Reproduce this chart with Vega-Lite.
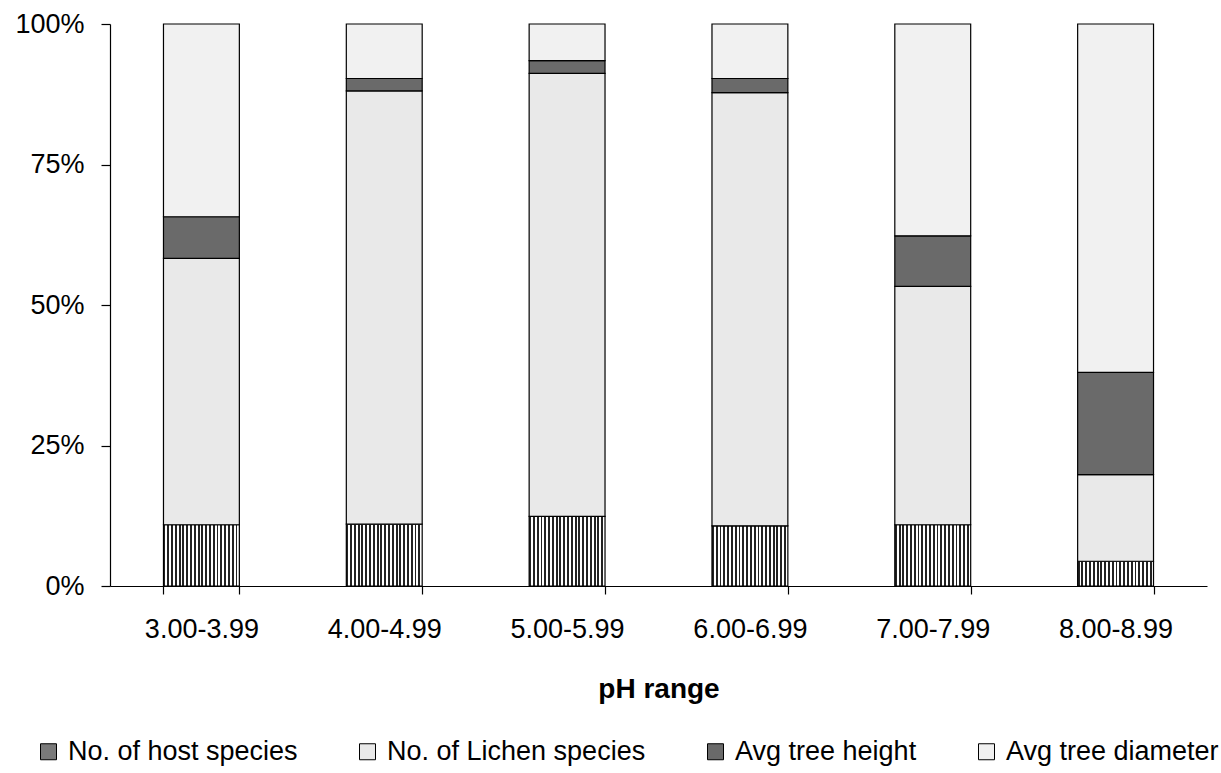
{
  "$schema": "https://vega.github.io/schema/vega-lite/v6.json",
  "width": 1097,
  "height": 562,
  "autosize": {"type": "none"},
  "padding": {"left": 110, "top": 24, "right": 14, "bottom": 187},
  "background": "white",
  "config": {"view": {"stroke": null}, "font": "Liberation Sans"},
  "data": {
    "values": [
      {"ph": "3.00-3.99", "series": "No. of host species", "value": 10.9},
      {"ph": "3.00-3.99", "series": "No. of Lichen species", "value": 47.4},
      {"ph": "3.00-3.99", "series": "Avg tree height", "value": 7.4},
      {"ph": "3.00-3.99", "series": "Avg tree diameter", "value": 34.3},
      {"ph": "4.00-4.99", "series": "No. of host species", "value": 11.0},
      {"ph": "4.00-4.99", "series": "No. of Lichen species", "value": 77.1},
      {"ph": "4.00-4.99", "series": "Avg tree height", "value": 2.2},
      {"ph": "4.00-4.99", "series": "Avg tree diameter", "value": 9.7},
      {"ph": "5.00-5.99", "series": "No. of host species", "value": 12.4},
      {"ph": "5.00-5.99", "series": "No. of Lichen species", "value": 78.8},
      {"ph": "5.00-5.99", "series": "Avg tree height", "value": 2.3},
      {"ph": "5.00-5.99", "series": "Avg tree diameter", "value": 6.5},
      {"ph": "6.00-6.99", "series": "No. of host species", "value": 10.7},
      {"ph": "6.00-6.99", "series": "No. of Lichen species", "value": 77.1},
      {"ph": "6.00-6.99", "series": "Avg tree height", "value": 2.5},
      {"ph": "6.00-6.99", "series": "Avg tree diameter", "value": 9.7},
      {"ph": "7.00-7.99", "series": "No. of host species", "value": 10.9},
      {"ph": "7.00-7.99", "series": "No. of Lichen species", "value": 42.4},
      {"ph": "7.00-7.99", "series": "Avg tree height", "value": 9.0},
      {"ph": "7.00-7.99", "series": "Avg tree diameter", "value": 37.7},
      {"ph": "8.00-8.99", "series": "No. of host species", "value": 4.4},
      {"ph": "8.00-8.99", "series": "No. of Lichen species", "value": 15.4},
      {"ph": "8.00-8.99", "series": "Avg tree height", "value": 18.2},
      {"ph": "8.00-8.99", "series": "Avg tree diameter", "value": 62.0}
    ]
  },
  "mark": {"type": "bar", "stroke": "black", "strokeWidth": 1.2},
  "encoding": {
    "x": {
      "field": "ph",
      "type": "nominal",
      "sort": null,
      "scale": {"paddingInner": 0.585, "paddingOuter": 0.2925},
      "axis": {
        "title": "pH range",
        "titleFont": "Liberation Sans",
        "titleFontSize": 28,
        "titleFontWeight": "bold",
        "titleColor": "black",
        "titlePadding": 33,
        "labelAngle": 0,
        "labelFont": "Liberation Sans",
        "labelFontSize": 27,
        "labelColor": "black",
        "labelPadding": 22,
        "tickBand": "extent",
        "tickSize": 8,
        "tickColor": "black",
        "tickWidth": 1.2,
        "domainColor": "black",
        "domainWidth": 1.2
      }
    },
    "y": {
      "field": "value",
      "type": "quantitative",
      "stack": "normalize",
      "axis": {
        "title": null,
        "values": [0, 0.25, 0.5, 0.75, 1],
        "format": ".0%",
        "grid": false,
        "labelFont": "Liberation Sans",
        "labelFontSize": 27,
        "labelColor": "black",
        "labelPadding": 17,
        "tickSize": 9,
        "tickColor": "black",
        "tickWidth": 1.2,
        "domainColor": "black",
        "domainWidth": 1.2
      }
    },
    "color": {
      "condition": {
        "test": "datum.series === 'No. of host species'",
        "value": {
          "gradient": "linear", "x1": 0, "y1": 0, "x2": 1, "y2": 0,
          "stops": [
            {"offset": 0, "color": "#222222"}, {"offset": 0.025, "color": "#222222"}, {"offset": 0.025, "color": "#ffffff"}, {"offset": 0.05, "color": "#ffffff"},
            {"offset": 0.05, "color": "#222222"}, {"offset": 0.075, "color": "#222222"}, {"offset": 0.075, "color": "#ffffff"}, {"offset": 0.1, "color": "#ffffff"},
            {"offset": 0.1, "color": "#222222"}, {"offset": 0.125, "color": "#222222"}, {"offset": 0.125, "color": "#ffffff"}, {"offset": 0.15, "color": "#ffffff"},
            {"offset": 0.15, "color": "#222222"}, {"offset": 0.175, "color": "#222222"}, {"offset": 0.175, "color": "#ffffff"}, {"offset": 0.2, "color": "#ffffff"},
            {"offset": 0.2, "color": "#222222"}, {"offset": 0.225, "color": "#222222"}, {"offset": 0.225, "color": "#ffffff"}, {"offset": 0.25, "color": "#ffffff"},
            {"offset": 0.25, "color": "#222222"}, {"offset": 0.275, "color": "#222222"}, {"offset": 0.275, "color": "#ffffff"}, {"offset": 0.3, "color": "#ffffff"},
            {"offset": 0.3, "color": "#222222"}, {"offset": 0.325, "color": "#222222"}, {"offset": 0.325, "color": "#ffffff"}, {"offset": 0.35, "color": "#ffffff"},
            {"offset": 0.35, "color": "#222222"}, {"offset": 0.375, "color": "#222222"}, {"offset": 0.375, "color": "#ffffff"}, {"offset": 0.4, "color": "#ffffff"},
            {"offset": 0.4, "color": "#222222"}, {"offset": 0.425, "color": "#222222"}, {"offset": 0.425, "color": "#ffffff"}, {"offset": 0.45, "color": "#ffffff"},
            {"offset": 0.45, "color": "#222222"}, {"offset": 0.475, "color": "#222222"}, {"offset": 0.475, "color": "#ffffff"}, {"offset": 0.5, "color": "#ffffff"},
            {"offset": 0.5, "color": "#222222"}, {"offset": 0.525, "color": "#222222"}, {"offset": 0.525, "color": "#ffffff"}, {"offset": 0.55, "color": "#ffffff"},
            {"offset": 0.55, "color": "#222222"}, {"offset": 0.575, "color": "#222222"}, {"offset": 0.575, "color": "#ffffff"}, {"offset": 0.6, "color": "#ffffff"},
            {"offset": 0.6, "color": "#222222"}, {"offset": 0.625, "color": "#222222"}, {"offset": 0.625, "color": "#ffffff"}, {"offset": 0.65, "color": "#ffffff"},
            {"offset": 0.65, "color": "#222222"}, {"offset": 0.675, "color": "#222222"}, {"offset": 0.675, "color": "#ffffff"}, {"offset": 0.7, "color": "#ffffff"},
            {"offset": 0.7, "color": "#222222"}, {"offset": 0.725, "color": "#222222"}, {"offset": 0.725, "color": "#ffffff"}, {"offset": 0.75, "color": "#ffffff"},
            {"offset": 0.75, "color": "#222222"}, {"offset": 0.775, "color": "#222222"}, {"offset": 0.775, "color": "#ffffff"}, {"offset": 0.8, "color": "#ffffff"},
            {"offset": 0.8, "color": "#222222"}, {"offset": 0.825, "color": "#222222"}, {"offset": 0.825, "color": "#ffffff"}, {"offset": 0.85, "color": "#ffffff"},
            {"offset": 0.85, "color": "#222222"}, {"offset": 0.875, "color": "#222222"}, {"offset": 0.875, "color": "#ffffff"}, {"offset": 0.9, "color": "#ffffff"},
            {"offset": 0.9, "color": "#222222"}, {"offset": 0.925, "color": "#222222"}, {"offset": 0.925, "color": "#ffffff"}, {"offset": 0.95, "color": "#ffffff"},
            {"offset": 0.95, "color": "#222222"}, {"offset": 0.975, "color": "#222222"}, {"offset": 0.975, "color": "#ffffff"}, {"offset": 1, "color": "#ffffff"}
          ]
        }
      },
      "field": "series",
      "type": "nominal",
      "sort": ["No. of host species", "No. of Lichen species", "Avg tree height", "Avg tree diameter"],
      "scale": {
        "domain": ["No. of host species", "No. of Lichen species", "Avg tree height", "Avg tree diameter"],
        "range": ["#7a7a7a", "#e9e9e9", "#6a6a6a", "#f1f1f1"]
      },
      "legend": {
        "title": null,
        "orient": "none",
        "legendX": -75,
        "legendY": 714,
        "direction": "horizontal",
        "columns": 4,
        "symbolType": "square",
        "symbolSize": 256,
        "symbolStrokeColor": "black",
        "symbolStrokeWidth": 1,
        "labelFont": "Liberation Sans",
        "labelFontSize": 27,
        "labelColor": "black",
        "labelOffset": 6,
        "labelLimit": 400,
        "columnPadding": 56
      }
    }
  }
}
